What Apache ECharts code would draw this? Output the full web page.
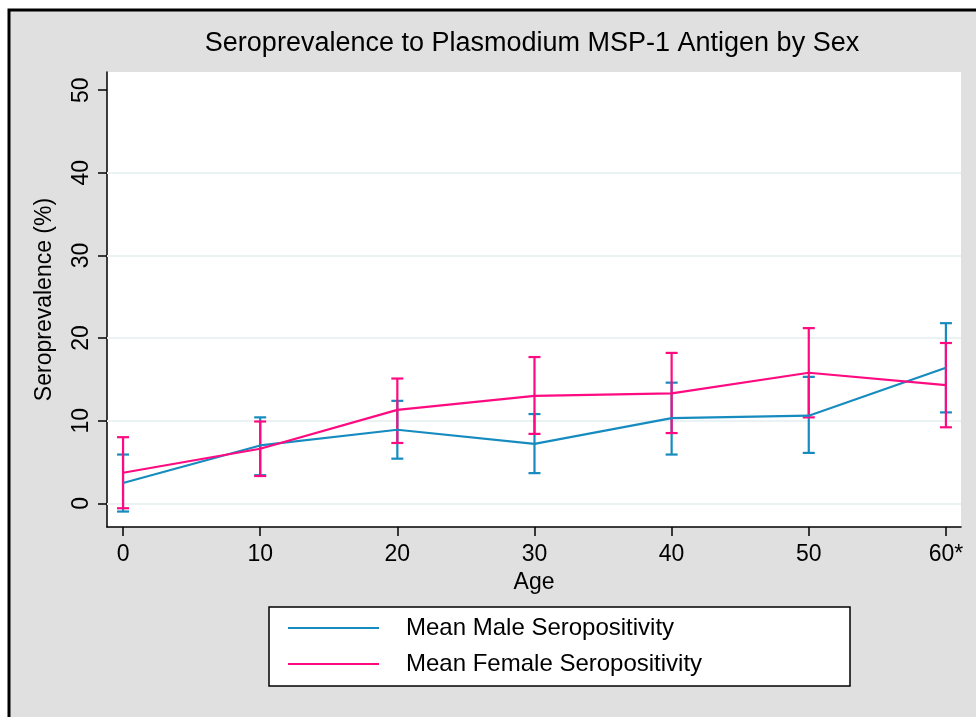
<!DOCTYPE html>
<html>
<head>
<meta charset="utf-8">
<title>Seroprevalence to Plasmodium MSP-1 Antigen by Sex</title>
<script src="https://cdn.jsdelivr.net/npm/echarts@6/dist/echarts.min.js"></script>
<style>
  html, body { margin: 0; padding: 0; background: #fff; }
  #chart { width: 976px; height: 717px; }
</style>
</head>
<body>
<div id="chart"></div>
<script>
// age groups (x axis)
var ages = [0, 10, 20, 30, 40, 50, 60];
var ageLabels = ['0', '10', '20', '30', '40', '50', '60*'];
var yTicks = [0, 10, 20, 30, 40, 50];
var gridVals = [0, 10, 20, 30, 40];

// male seropositivity (%) with 95% CI
var maleMean = [2.45, 7.0, 8.9, 7.2, 10.3, 10.6, 16.4];
var maleLow = [-1.0, 3.4, 5.4, 3.65, 5.9, 6.1, 11.0];
var maleHigh = [5.9, 10.4, 12.4, 10.8, 14.6, 15.3, 21.8];

// female seropositivity (%) with 95% CI
var femaleMean = [3.7, 6.6, 11.3, 13.0, 13.3, 15.8, 14.3];
var femaleLow = [-0.6, 3.3, 7.3, 8.4, 8.5, 10.4, 9.2];
var femaleHigh = [8.0, 9.9, 15.1, 17.7, 18.2, 21.2, 19.4];

var blue = '#168bbf';
var pink = '#ff0a80';
var font = 'Liberation Sans, Arial, sans-serif';

function pairs(xs, ys) {
  var out = [];
  for (var i = 0; i < xs.length; i++) out.push([xs[i], ys[i]]);
  return out;
}

function ciData(lo, hi) {
  var out = [];
  for (var i = 0; i < ages.length; i++) out.push([ages[i], lo[i], hi[i]]);
  return out;
}

// error bar with caps
function errorBar(color) {
  return function(params, api) {
    var lo = api.coord([api.value(0), api.value(1)]);
    var hi = api.coord([api.value(0), api.value(2)]);
    var w = 6;
    var st = { stroke: color, lineWidth: 2.2 };
    return {
      type: 'group',
      children: [
        { type: 'line', shape: { x1: lo[0], y1: lo[1], x2: hi[0], y2: hi[1] }, style: st },
        { type: 'line', shape: { x1: lo[0] - w, y1: lo[1], x2: lo[0] + w, y2: lo[1] }, style: st },
        { type: 'line', shape: { x1: hi[0] - w, y1: hi[1], x2: hi[0] + w, y2: hi[1] }, style: st }
      ]
    };
  };
}

var chart = echarts.init(document.getElementById('chart'));
var option = {
  backgroundColor: '#fff',
  animation: false,
  graphic: [
    {
      type: 'rect', z: -10,
      shape: { x: 9, y: 10, width: 1000, height: 800 },
      style: { fill: '#e0e0e0', stroke: '#000', lineWidth: 3 }
    },
    {
      type: 'rect', z: 1,
      shape: { x: 269, y: 607, width: 581, height: 79 },
      style: { fill: '#fff', stroke: '#000', lineWidth: 1.5 }
    }
  ],
  title: {
    text: 'Seroprevalence to Plasmodium MSP-1 Antigen by Sex',
    left: 532,
    textAlign: 'center',
    top: 30,
    padding: 0,
    textStyle: { fontFamily: font, fontSize: 27, fontWeight: 'normal', color: '#000' }
  },
  legend: {
    orient: 'vertical',
    left: 288,
    top: 616,
    padding: 0,
    itemGap: 12,
    itemWidth: 91,
    itemHeight: 2,
    icon: 'rect',
    z: 5,
    data: ['Mean Male Seropositivity', 'Mean Female Seropositivity'],
    textStyle: { fontFamily: font, fontSize: 24, color: '#000', lineHeight: 24, padding: [0, 0, 0, 22] }
  },
  grid: {
    left: 107, right: 15, top: 72, bottom: 190,
    show: true, backgroundColor: '#fff', borderWidth: 0
  },
  xAxis: {
    type: 'value',
    min: -1.17,
    max: 61.1,
    name: 'Age',
    nameLocation: 'middle',
    nameGap: 40,
    nameTextStyle: { fontFamily: font, fontSize: 23, color: '#000' },
    axisLine: { onZero: false, lineStyle: { color: '#000', width: 1.5 } },
    axisTick: { show: true, length: 9, customValues: ages, lineStyle: { color: '#000', width: 1.5 } },
    axisLabel: {
      customValues: ages,
      margin: 16,
      fontFamily: font, fontSize: 23, color: '#000',
      formatter: function(v) { return ageLabels[ages.indexOf(v)]; }
    },
    splitLine: { show: false }
  },
  yAxis: {
    type: 'value',
    min: -2.87,
    max: 52.2,
    name: 'Seroprevalence (%)',
    nameLocation: 'middle',
    nameRotate: 90,
    nameGap: 51,
    nameTextStyle: { fontFamily: font, fontSize: 23, color: '#000' },
    axisLine: { show: true, onZero: false, lineStyle: { color: '#000', width: 1.5 } },
    axisTick: { show: true, length: 9, customValues: yTicks, lineStyle: { color: '#000', width: 1.5 } },
    axisLabel: {
      customValues: yTicks,
      rotate: 90,
      margin: 14,
      fontFamily: font, fontSize: 23, color: '#000'
    },
    splitLine: { show: false }
  },
  series: [
    {
      name: 'maleCI', type: 'custom', renderItem: errorBar(blue),
      data: ciData(maleLow, maleHigh), z: 2,
      encode: { x: 0, y: [1, 2] }
    },
    {
      name: 'femaleCI', type: 'custom', renderItem: errorBar(pink),
      data: ciData(femaleLow, femaleHigh), z: 3,
      encode: { x: 0, y: [1, 2] }
    },
    {
      name: 'Mean Male Seropositivity', type: 'line', symbol: 'none',
      color: blue, lineStyle: { width: 2.2, color: blue }, z: 4,
      data: pairs(ages, maleMean),
      markLine: {
        silent: true, symbol: 'none', label: { show: false }, z: 1,
        lineStyle: { color: '#eaf2f3', width: 2, type: 'solid' },
        data: gridVals.map(function(v) { return { yAxis: v }; })
      }
    },
    {
      name: 'Mean Female Seropositivity', type: 'line', symbol: 'none',
      color: pink, lineStyle: { width: 2.2, color: pink }, z: 5,
      data: pairs(ages, femaleMean)
    }
  ]
};
chart.setOption(option);
window.onresize = chart.resize;
</script>
</body>
</html>
